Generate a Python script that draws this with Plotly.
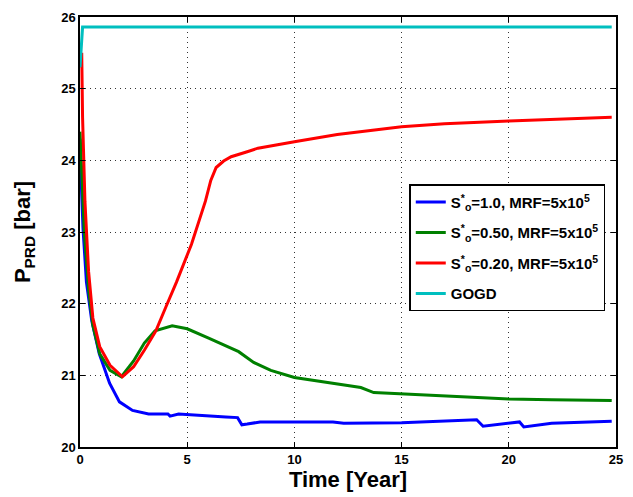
import plotly.graph_objects as go

# --- data ---
t_blue = [0.0, 0.02, 0.14, 0.3, 0.55, 0.9, 1.38, 1.84, 2.45, 3.2, 4.1, 4.2, 4.6, 5.5, 6.8, 7.35, 7.55, 7.8,
          8.4, 11.8, 12.3, 15.0, 18.5, 18.8, 20.5, 20.7, 22.0, 24.8]
p_blue = [24.3, 24.0, 23.05, 22.3, 21.76, 21.3, 20.89, 20.63, 20.51, 20.46, 20.46, 20.43, 20.46, 20.44, 20.42,
          20.41, 20.31, 20.32, 20.35, 20.35, 20.33, 20.34, 20.38, 20.29, 20.35, 20.28, 20.33, 20.36]

t_green = [0.0, 0.05, 0.2, 0.4, 0.6, 0.92, 1.4, 1.93, 2.5, 3.0, 3.5, 4.3, 5.0, 6.0, 7.0, 7.4, 8.1, 8.9,
           10.0, 11.8, 13.1, 13.7, 15.0, 16.6, 18.0, 20.0, 22.0, 24.8]
p_green = [24.4, 24.0, 23.0, 22.2, 21.7, 21.3, 21.07, 20.98, 21.2, 21.45, 21.62, 21.69, 21.65, 21.52, 21.38,
           21.33, 21.18, 21.07, 20.97, 20.89, 20.83, 20.76, 20.74, 20.72, 20.70, 20.67, 20.66, 20.65]

t_red = [0.0, 0.08, 0.12, 0.23, 0.4, 0.6, 0.92, 1.4, 1.98, 2.5, 3.0, 3.54, 4.0, 4.5, 5.2, 5.85, 6.1, 6.35,
         6.7, 7.05, 7.8, 8.3, 10.0, 12.0, 15.0, 17.0, 20.0, 24.8]
p_red = [25.3, 25.5, 24.6, 23.43, 22.45, 21.8, 21.4, 21.14, 20.98, 21.12, 21.35, 21.62, 21.95, 22.3, 22.83,
         23.43, 23.72, 23.9, 23.99, 24.05, 24.12, 24.17, 24.26, 24.36, 24.47, 24.51, 24.55, 24.6]

t_gogd = [0.0, 0.12, 24.8]
p_gogd = [25.3, 25.86, 25.86]

names = [
    "S<sup>*</sup><sub>o</sub>=1.0, MRF=5x10<sup>5</sup>",
    "S<sup>*</sup><sub>o</sub>=0.50, MRF=5x10<sup>5</sup>",
    "S<sup>*</sup><sub>o</sub>=0.20, MRF=5x10<sup>5</sup>",
    "GOGD",
]
colors = ["#0000ff", "#008000", "#ff0000", "#00bfbf"]
x_ticks = [0, 5, 10, 15, 20, 25]
y_ticks = [20, 21, 22, 23, 24, 25, 26]

FONT = "Liberation Sans, Arial, sans-serif"

fig = go.Figure()
for i, (t, p, n, c) in enumerate(zip([t_blue, t_green, t_red, t_gogd], [p_blue, p_green, p_red, p_gogd], names, colors)):
    fig.add_trace(go.Scatter(x=t, y=p, name=n, mode="lines", legendgroup=f"g{i}",
                             line=dict(color=c, width=3)))

axis_common = dict(
    showline=True, linecolor="black", linewidth=1.5, mirror="ticks",
    ticks="inside", ticklen=5, tickcolor="black",
    showgrid=True, gridcolor="#333333", griddash="1px,4px", gridwidth=1,
    zeroline=False,
    tickfont=dict(family=FONT, size=13, color="black", weight="bold"),
)

fig.update_layout(
    width=633, height=497,
    margin=dict(l=80, r=10, t=15, b=50),
    paper_bgcolor="white", plot_bgcolor="white",
    font=dict(family=FONT, color="black"),
    showlegend=True,
    legend=dict(
        x=0.98, y=0.611, xanchor="right", yanchor="top",
        bgcolor="white", bordercolor="black", borderwidth=1.5,
        tracegroupgap=8,
        font=dict(family=FONT, size=15, color="black", weight="bold"),
    ),
    xaxis=dict(range=[0, 25], tickvals=x_ticks, **axis_common,
               title=dict(text="<b>Time [Year]</b>", font=dict(family=FONT, size=22, color="black"), standoff=4)),
    yaxis=dict(range=[20, 26], tickvals=y_ticks, **axis_common,
               title=dict(text="<b>P<sub>PRD</sub> [bar]</b>", font=dict(family=FONT, size=22, color="black"), standoff=24)),
)

fig.write_html("out.html")
